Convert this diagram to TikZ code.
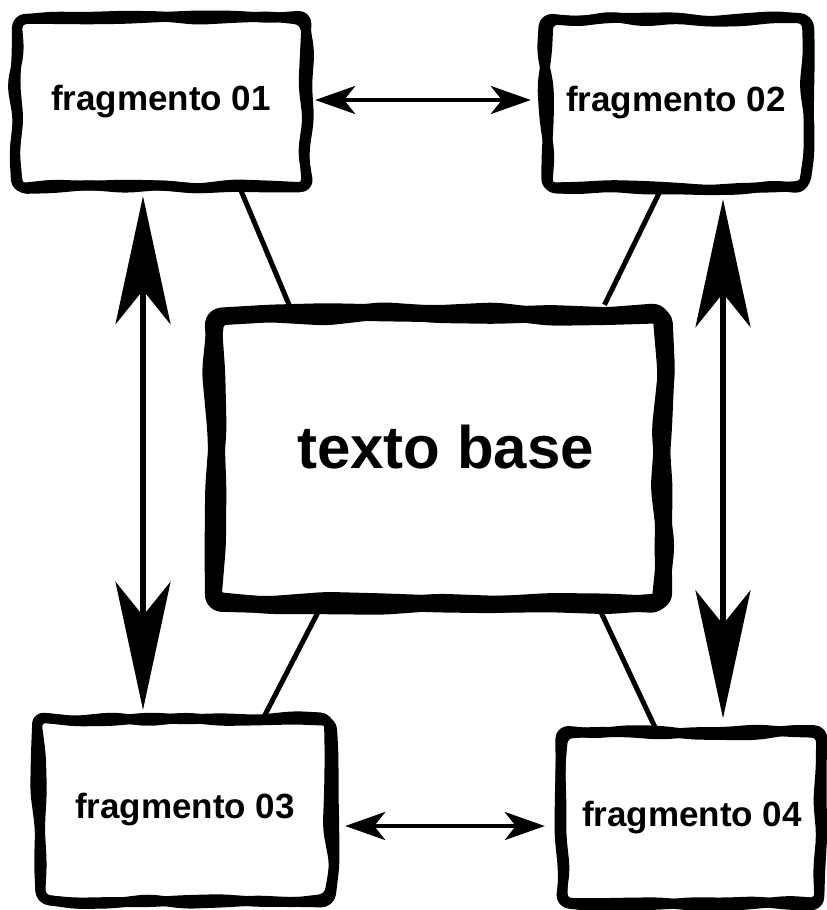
\documentclass[tikz,border=0pt]{standalone}
\usepackage{fontspec}
\setmainfont{Liberation Sans}
\usetikzlibrary{arrows.meta,calc}
\pgfmathsetseed{11}
\tikzset{
  boxn/.style={inner sep=0pt, font=\bfseries\fontsize{35}{40}\selectfont},
  link/.style={line width=5pt},
  harrow/.style={line width=4pt, {Stealth[length=40pt,width=28pt,inset=11pt]}-{Stealth[length=40pt,width=28pt,inset=11pt]}},
  varrow/.style={line width=6pt, {Stealth[length=128pt,width=55pt,inset=34pt]}-{Stealth[length=128pt,width=55pt,inset=34pt]}}
}
% hand-drawn frame round a named node: #1 node, #2 line width, #3 jitter
\newcommand\roughframe[3]{%
  \path (#1.north west); \pgfgetlastxy{\rxa}{\rya}%
  \path (#1.south east); \pgfgetlastxy{\rxb}{\ryb}%
  \draw[line width=#2, rounded corners=9pt, line join=round]
    ({\rxa+rand*#3},{\rya+rand*#3})
    \foreach \t in {0.125,0.25,0.375,0.5,0.625,0.75,0.875} { -- ({\rxa+\t*(\rxb-\rxa)},{\rya+rand*#3}) }
    -- ({\rxb+rand*#3},{\rya+rand*#3})
    \foreach \t in {0.2,0.4,0.6,0.8} { -- ({\rxb+rand*1.3*#3},{\rya+\t*(\ryb-\rya)}) }
    -- ({\rxb+rand*#3},{\ryb+rand*#3})
    \foreach \t in {0.125,0.25,0.375,0.5,0.625,0.75,0.875} { -- ({\rxb+\t*(\rxa-\rxb)},{\ryb+rand*#3}) }
    -- ({\rxa+rand*#3},{\ryb+rand*#3})
    \foreach \t in {0.2,0.4,0.6,0.8} { -- ({\rxa+rand*1.3*#3},{\ryb+\t*(\rya-\ryb)}) }
    -- cycle;
}
\begin{document}
\begin{tikzpicture}[x=1pt,y=-1pt]
\useasboundingbox (0,0) rectangle (827,910);
% boxes
\node[boxn, minimum width=290pt, minimum height=168pt] (f1) at (161,102) {fragmento 01};
\node[boxn, minimum width=260pt, minimum height=168pt] (f2) at (676,103) {fragmento 02};
\node[boxn, minimum width=449pt, minimum height=289pt, text depth=24pt,
      font=\bfseries\fontsize{60}{66}\selectfont] (base) at (438.5,458.5) {\hspace*{14pt}texto base};
\node[boxn, minimum width=292pt, minimum height=182pt] (f3) at (185,810) {fragmento 03};
\node[boxn, minimum width=258pt, minimum height=171pt] (f4) at (692,818) {fragmento 04};
% rough borders
\foreach \n/\w/\j in {f1/10pt/3pt,f2/10pt/3pt,f3/10pt/3pt,f4/10pt/3pt,base/17pt/3.5pt}{
  \roughframe{\n}{\w}{\j}
  \roughframe{\n}{\w}{\j}
}
% connectors to the base
\draw[link] ($(f1.south)+(79,2)$) -- ($(base.north)+(-149,-8)$);
\draw[link] ($(f2.south)+(-16,4)$) -- ($(base.north)+(166,-9)$);
\draw[link] ($(base.south)+(-120,8)$) -- ($(f3.north)+(80,-4)$);
\draw[link] ($(base.south)+(162,8)$) -- ($(f4.north)+(-37,-5)$);
% arrows
\draw[harrow] ($(f1.east)+(9,-2)$) -- ($(f2.west)+(-15,-3)$);
\draw[harrow] ($(f3.east)+(14,16)$) -- ($(f4.west)+(-18,8)$);
\draw[varrow] ($(f1.south)+(-18,10)$) -- ($(f3.north)+(-42,-9)$);
\draw[varrow] ($(f2.south)+(47,12)$) -- ($(f4.north)+(31,-14)$);
\end{tikzpicture}
\end{document}
